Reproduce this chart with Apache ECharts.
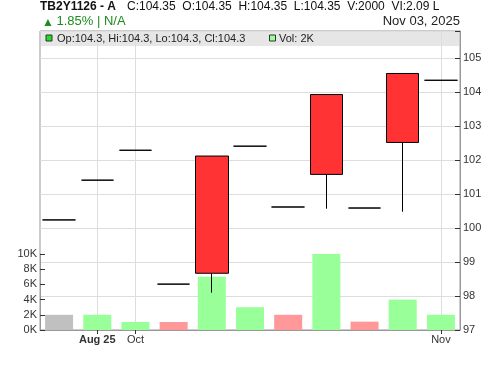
<!DOCTYPE html>
<html><head><meta charset="utf-8">
<script src="https://cdn.jsdelivr.net/npm/echarts@6/dist/echarts.min.js"></script>
<style>html,body{margin:0;padding:0;background:#fff}#c{width:500px;height:366px}</style>
</head><body><div id="c"></div>
<script>
const categories = ['Aug 22','Aug 25','Oct 01','Oct 06','Oct 09','Oct 14','Oct 17','Oct 22','Oct 27','Oct 30','Nov 03'];
const tickLabels = ['', 'Aug 25', 'Oct', '', '', '', '', '', '', '', 'Nov'];
const openValues  = [100.24,101.41,102.29,98.35,98.67,102.41,100.62,101.58,100.59,102.52,104.35];
const closeValues = [100.24,101.41,102.29,98.35,102.12,102.41,100.62,103.93,100.59,104.55,104.35];
const lowValues   = [100.24,101.41,102.29,98.35,98.10,102.41,100.62,100.57,100.59,100.48,104.35];
const highValues  = [100.24,101.41,102.29,98.35,102.12,102.41,100.62,103.93,100.59,104.55,104.35];
const volumes = [2000,2000,1050,1050,7000,3000,2000,10000,1100,4000,2000];
const volumeDirection = ['none','up','up','down','up','up','down','up','down','up','up'];
const headerText = 'C:104.35  O:104.35  H:104.35  L:104.35  V:2000  VI:2.09 L';
const legendOHLC = 'Op:104.3, Hi:104.3, Lo:104.3, Cl:104.3';
const legendVol = 'Vol: 2K';

const dirColor = {none:'#c0c0c0', up:'#99ff99', down:'#ff9999'};
const FF = "'Liberation Sans', Arial, sans-serif";
const chart = echarts.init(document.getElementById('c'), null, {renderer:'canvas'});

const graphics = [
  {type:'rect', z:0, shape:{x:41, y:31, width:418, height:15}, style:{fill:'#e6e6e6'}},
  {type:'text', z:10, style:{text:'TB2Y1126 - A', x:40, y:6.5, fontSize:12, fontWeight:'bold', fontFamily:FF, fill:'#111', verticalAlign:'middle'}},
  {type:'text', z:10, style:{text:headerText, x:127, y:6.5, fontSize:12, fontFamily:FF, fill:'#111', verticalAlign:'middle'}},
  {type:'text', z:10, style:{text:'▲', x:42, y:22.5, fontSize:12, fontFamily:FF, fill:'#1e8c1e', verticalAlign:'middle'}},
  {type:'text', z:10, style:{text:'1.85% | N/A', x:56.5, y:21.5, fontSize:13, fontFamily:FF, fill:'#1e8c1e', verticalAlign:'middle'}},
  {type:'text', z:10, style:{text:'Nov 03, 2025', x:460, y:21.5, fontSize:13, fontFamily:FF, fill:'#222', align:'right', verticalAlign:'middle'}},
  {type:'rect', z:10, shape:{x:46, y:35, width:6, height:6}, style:{fill:'#22dd22', stroke:'#333', lineWidth:1}},
  {type:'text', z:10, style:{text:legendOHLC, x:57, y:38.5, fontSize:11, fontFamily:FF, fill:'#222', verticalAlign:'middle'}},
  {type:'rect', z:10, shape:{x:269.5, y:35, width:6, height:6}, style:{fill:'#99ff99', stroke:'#333', lineWidth:1}},
  {type:'text', z:10, style:{text:legendVol, x:279, y:38.5, fontSize:11, fontFamily:FF, fill:'#222', verticalAlign:'middle'}}
];

const vLines = tickLabels.map((t,i)=>t!=='' ? {xAxis: categories[i]} : null).filter(Boolean);

chart.setOption({
  animation:false,
  textStyle:{fontFamily:FF},
  graphic: graphics,
  grid:[
    {left:40, right:40, top:31, bottom:36, show:true, borderColor:'#999', borderWidth:1},
    {left:40, right:40, top:254, bottom:36}
  ],
  xAxis:[
    {type:'category', gridIndex:0, data:categories, axisLine:{show:false}, axisTick:{show:false}, axisLabel:{show:false}, splitLine:{show:false}},
    {type:'category', gridIndex:1, data:categories,
      axisLine:{show:true, lineStyle:{color:'#999'}},
      axisTick:{show:true, alignWithLabel:true, interval:(i)=>tickLabels[i]!=='', length:4, lineStyle:{color:'#333'}},
      axisLabel:{interval:0, margin:4, fontSize:11, color:'#333', fontFamily:FF,
        formatter:(v,i)=>{const t=tickLabels[i]; if(!t) return ''; return t==='Aug 25' ? '{b|'+t+'}' : t;},
        rich:{b:{fontWeight:'bold', fontSize:11, color:'#333', fontFamily:FF}}},
      splitLine:{show:false}}
  ],
  yAxis:[
    {type:'value', gridIndex:0, position:'right', min:97, max:105.8, interval:1,
      axisLine:{show:true, lineStyle:{color:'#999'}},
      axisTick:{show:true, inside:true, length:5, lineStyle:{color:'#333'}},
      axisLabel:{fontSize:11, color:'#333', margin:3, fontFamily:FF,
        formatter:(v)=>Math.abs(v-Math.round(v))<1e-6 ? String(Math.round(v)) : ''},
      splitLine:{show:true, lineStyle:{color:'#dddddd'}}},
    {type:'value', gridIndex:1, position:'left', min:0, max:10000, interval:2000,
      axisLine:{show:true, lineStyle:{color:'#999'}},
      axisTick:{show:true, inside:true, length:5, lineStyle:{color:'#333'}},
      axisLabel:{fontSize:11, color:'#333', margin:3, fontFamily:FF, formatter:(v)=>(v/1000)+'K'},
      splitLine:{show:false}}
  ],
  series:[
    {type:'candlestick', xAxisIndex:0, yAxisIndex:0, z:3, barWidth:33,
      data: categories.map((c,i)=>[openValues[i], closeValues[i], lowValues[i], highValues[i]]),
      itemStyle:{color:'#ff3333', color0:'#ff3333', borderColor:'#000', borderColor0:'#000', borderColorDoji:'#000', borderWidth:1},
      markLine:{silent:true, z:1, symbol:['none','none'], label:{show:false},
        lineStyle:{color:'#dddddd', width:1, type:'solid'}, data:vLines}},
    {type:'bar', xAxisIndex:1, yAxisIndex:1, z:2, barWidth:28,
      data: volumes.map((v,i)=>({value:v, itemStyle:{color:dirColor[volumeDirection[i]]}}))}
  ]
});
</script></body></html>
